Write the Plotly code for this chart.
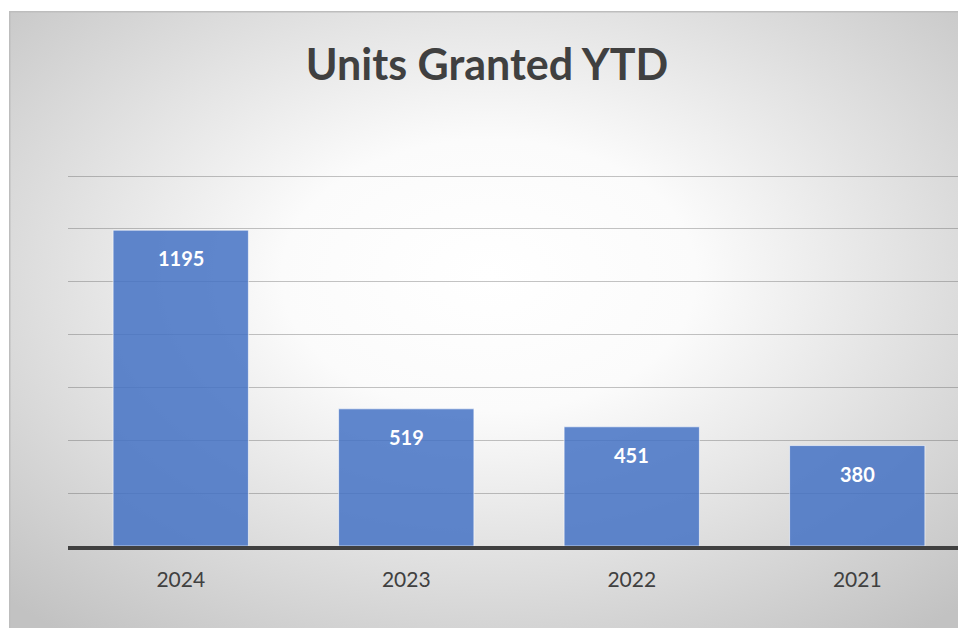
import base64
import plotly.graph_objects as go

# data
years = ["2024", "2023", "2022", "2021"]
units = [1195, 519, 451, 380]
title_text = "Units Granted YTD"

W, H = 958, 628
ML, MT, MB = 68, 173, 82
plot_w = W - ML
plot_h = H - MT - MB
y_top = 1400 * plot_h / 370  # so the 1400 gridline sits just inside the plot

# radial grey-to-white background, like the office chart fill
svg = """<svg xmlns='http://www.w3.org/2000/svg' width='960' height='630' viewBox='0 0 960 630' preserveAspectRatio='none'>
<defs><radialGradient id='g' cx='0.5' cy='0.42' r='0.72'>
<stop offset='0' stop-color='#ffffff'/>
<stop offset='0.3' stop-color='#fbfbfb'/>
<stop offset='1' stop-color='#c2c2c2'/>
</radialGradient></defs>
<rect x='0' y='0' width='960' height='630' fill='url(#g)'/>
<rect x='0.75' y='0.75' width='970' height='640' fill='none' stroke='#bdbdbd' stroke-width='1.5'/>
</svg>"""
bg_src = "data:image/svg+xml;base64," + base64.b64encode(svg.encode()).decode()

fig = go.Figure()
fig.add_trace(go.Bar(
    x=years, y=units,
    marker=dict(color="rgba(68,114,196,0.85)",
                line=dict(color="rgba(255,255,255,0.6)", width=1)),
    hoverinfo="skip",
))

# value labels inside the top of each bar (x given as category index)
for i, v in enumerate(units):
    fig.add_annotation(x=i, y=v, text=f"<b>{v}</b>", showarrow=False,
                       yshift=-28, font=dict(family="Lato", size=20, color="white"))

# chart box starts at pixel (9, 11)
fig.add_layout_image(
    source=bg_src, xref="paper", yref="paper",
    x=(9 - ML) / plot_w, y=1 + (MT - 11) / plot_h,
    sizex=960 / plot_w, sizey=630 / plot_h,
    xanchor="left", yanchor="top", sizing="stretch", layer="below",
)

fig.update_layout(
    width=W, height=H,
    margin=dict(l=ML, r=0, t=MT, b=MB, pad=0),
    paper_bgcolor="white",
    plot_bgcolor="rgba(0,0,0,0)",
    bargap=0.4,
    showlegend=False,
    title=dict(text=f"<b>{title_text}</b>", xref="container", yref="container",
               x=487 / W, y=1 - 65 / H, xanchor="center", yanchor="middle",
               font=dict(family="Lato", size=43, color="#404040")),
    font=dict(family="Lato", color="#404040"),
)
fig.update_xaxes(
    type="category",
    range=[-0.5, -0.5 + plot_w / 225.5],
    showline=True, linecolor="#404040", linewidth=4,
    showgrid=False, ticks="", ticklabelstandoff=12,
    tickfont=dict(family="Lato", size=21, color="#404040"),
)
fig.update_yaxes(
    range=[0, y_top], tickvals=[200, 400, 600, 800, 1000, 1200, 1400],
    showticklabels=False,
    gridcolor="rgba(70,70,70,0.32)", gridwidth=1.3, zeroline=False,
)

# drop the default page margin so the figure sits at the window corner
fig.write_html("out.html",
               config={"displayModeBar": False},
               post_script="document.body.style.margin='0';"
                           "document.body.style.overflow='hidden';")
